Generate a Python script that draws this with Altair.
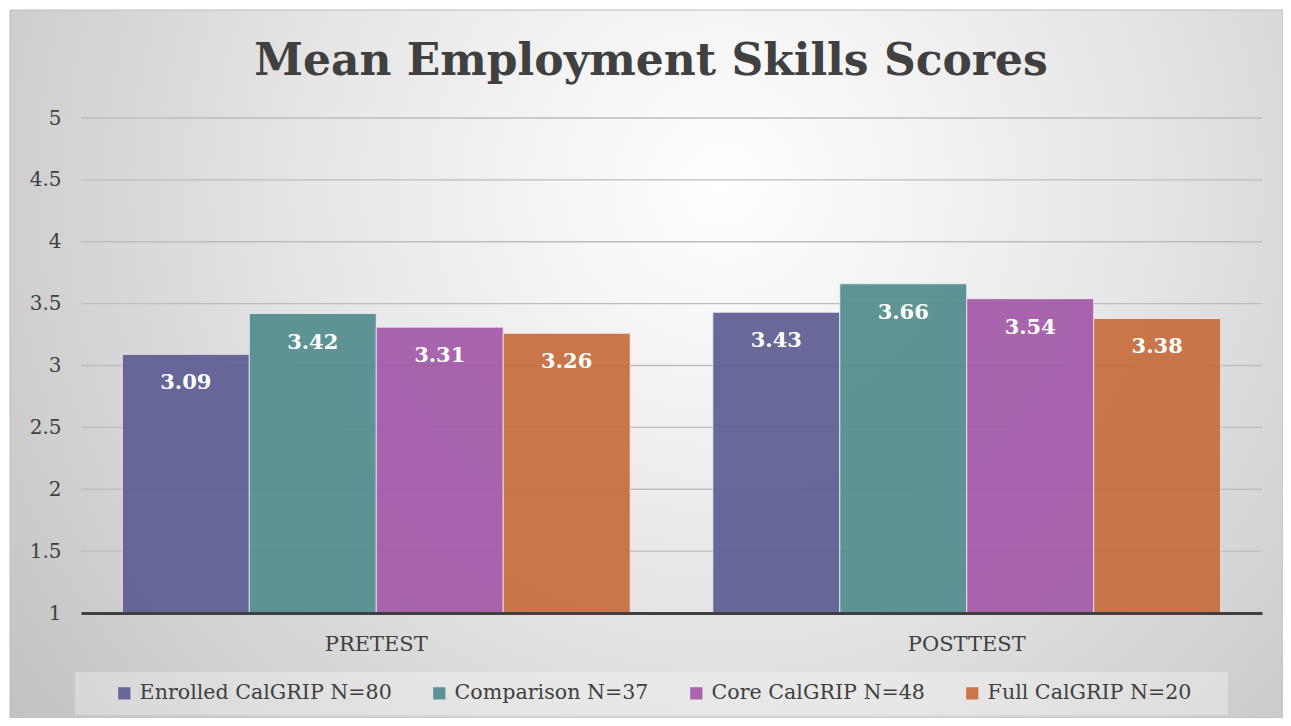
import altair as alt
import pandas as pd

phases = ["PRETEST", "POSTTEST"]
series = ["Enrolled CalGRIP N=80", "Comparison N=37", "Core CalGRIP N=48", "Full CalGRIP N=20"]
pretest = [3.09, 3.42, 3.31, 3.26]
posttest = [3.43, 3.66, 3.54, 3.38]
colors = ["#5E5E93", "#548D8F", "#A55AAA", "#C76E3E"]
y_ticks = [1, 1.5, 2, 2.5, 3, 3.5, 4, 4.5, 5]
title_text = "Mean Employment Skills Scores"

rows = []
for s, v in zip(series, pretest):
    rows.append({"phase": "PRETEST", "series": s, "value": v})
for s, v in zip(series, posttest):
    rows.append({"phase": "POSTTEST", "series": s, "value": v})
df = pd.DataFrame(rows)
grid_df = pd.DataFrame({"value": y_ticks})

FONT = "DejaVu Serif"
TXT = "#404040"

PL, PT, W, H = 73, 110, 1181, 495
TOTW, TOTH = 1275, 710

yscale = alt.Scale(domain=[1, 5], zero=False, nice=False)
yaxis = alt.Axis(values=y_ticks, format=".1~f", labelFont=FONT,
                 labelFontSize=20, labelColor=TXT, ticks=False,
                 labelPadding=20, domain=False, grid=False, zindex=1)

bg = alt.Chart(alt.Data(values=[{}])).mark_rect(
    fill=alt.Gradient(
        gradient="radial",
        stops=[
            alt.GradientStop(color="#ffffff", offset=0),
            alt.GradientStop(color="#e8e8e8", offset=0.42),
            alt.GradientStop(color="#c0c0c0", offset=1),
        ],
        x1=0.56, y1=0.36, r1=0, x2=0.56, y2=0.36, r2=0.72,
    ),
    stroke="#bcbcbc", strokeWidth=1,
).encode(
    x=alt.value(-PL + 2), x2=alt.value(TOTW - PL),
    y=alt.value(-PT + 2), y2=alt.value(TOTH - PT),
)

legend_box = alt.Chart(alt.Data(values=[{}])).mark_rect(
    fill="#ffffff", fillOpacity=0.3,
).encode(
    x=alt.value(-6), x2=alt.value(1147),
    y=alt.value(554), y2=alt.value(597),
)

title = alt.Chart(alt.Data(values=[{"t": title_text}])).mark_text(
    font=FONT, fontSize=44, fontWeight="bold", color=TXT,
    align="center", baseline="alphabetic",
).encode(
    x=alt.value(570), y=alt.value(-43), text="t:N",
)

grid = alt.Chart(grid_df).mark_rule(color="#bdbdbd", strokeWidth=1.3).encode(
    y=alt.Y("value:Q", title=None, scale=yscale, axis=yaxis),
)

base = alt.Chart(df).encode(
    x=alt.X("phase:N", sort=phases, title=None,
            scale=alt.Scale(paddingInner=0.14, paddingOuter=0.07),
            axis=alt.Axis(labelAngle=0, labelFont=FONT, labelFontSize=21,
                          labelColor=TXT, ticks=False, labelPadding=20,
                          domainColor="#404040", domainWidth=3, grid=False,
                          zindex=1)),
    xOffset=alt.XOffset("series:N", sort=series,
                        scale=alt.Scale(paddingInner=0, paddingOuter=0)),
)

bars = base.mark_bar(opacity=0.93, stroke="#f2f2f2", strokeWidth=1, strokeOpacity=0.8).encode(
    y=alt.Y("value:Q", title=None, scale=yscale, axis=yaxis),
    y2=alt.datum(1),
    color=alt.Color("series:N", sort=series,
                    scale=alt.Scale(domain=series, range=colors),
                    legend=alt.Legend(orient="none", legendX=33, legendY=565,
                                      direction="horizontal", title=None,
                                      labelFont=FONT, labelFontSize=20.6,
                                      labelColor=TXT, labelLimit=0,
                                      labelOffset=5, columnPadding=37,
                                      symbolType="square", symbolSize=150,
                                      symbolStrokeWidth=0, symbolOpacity=0.93,
                                      padding=0, zindex=1)),
)

labels = base.mark_text(font=FONT, fontSize=21, fontWeight="bold", color="white",
                        baseline="alphabetic", dy=35).encode(
    y=alt.Y("value:Q", scale=yscale, axis=yaxis),
    text=alt.Text("value:Q", format=".2f"),
)

chart = alt.layer(bg, legend_box, title, grid, bars, labels).properties(
    width=W, height=H,
    padding={"left": PL, "top": PT, "right": TOTW - PL - W, "bottom": TOTH - PT - H},
    autosize=alt.AutoSizeParams(type="none"),
).configure_view(stroke=None)

chart.save("out.html", embed_options={"renderer": "svg", "actions": False})
